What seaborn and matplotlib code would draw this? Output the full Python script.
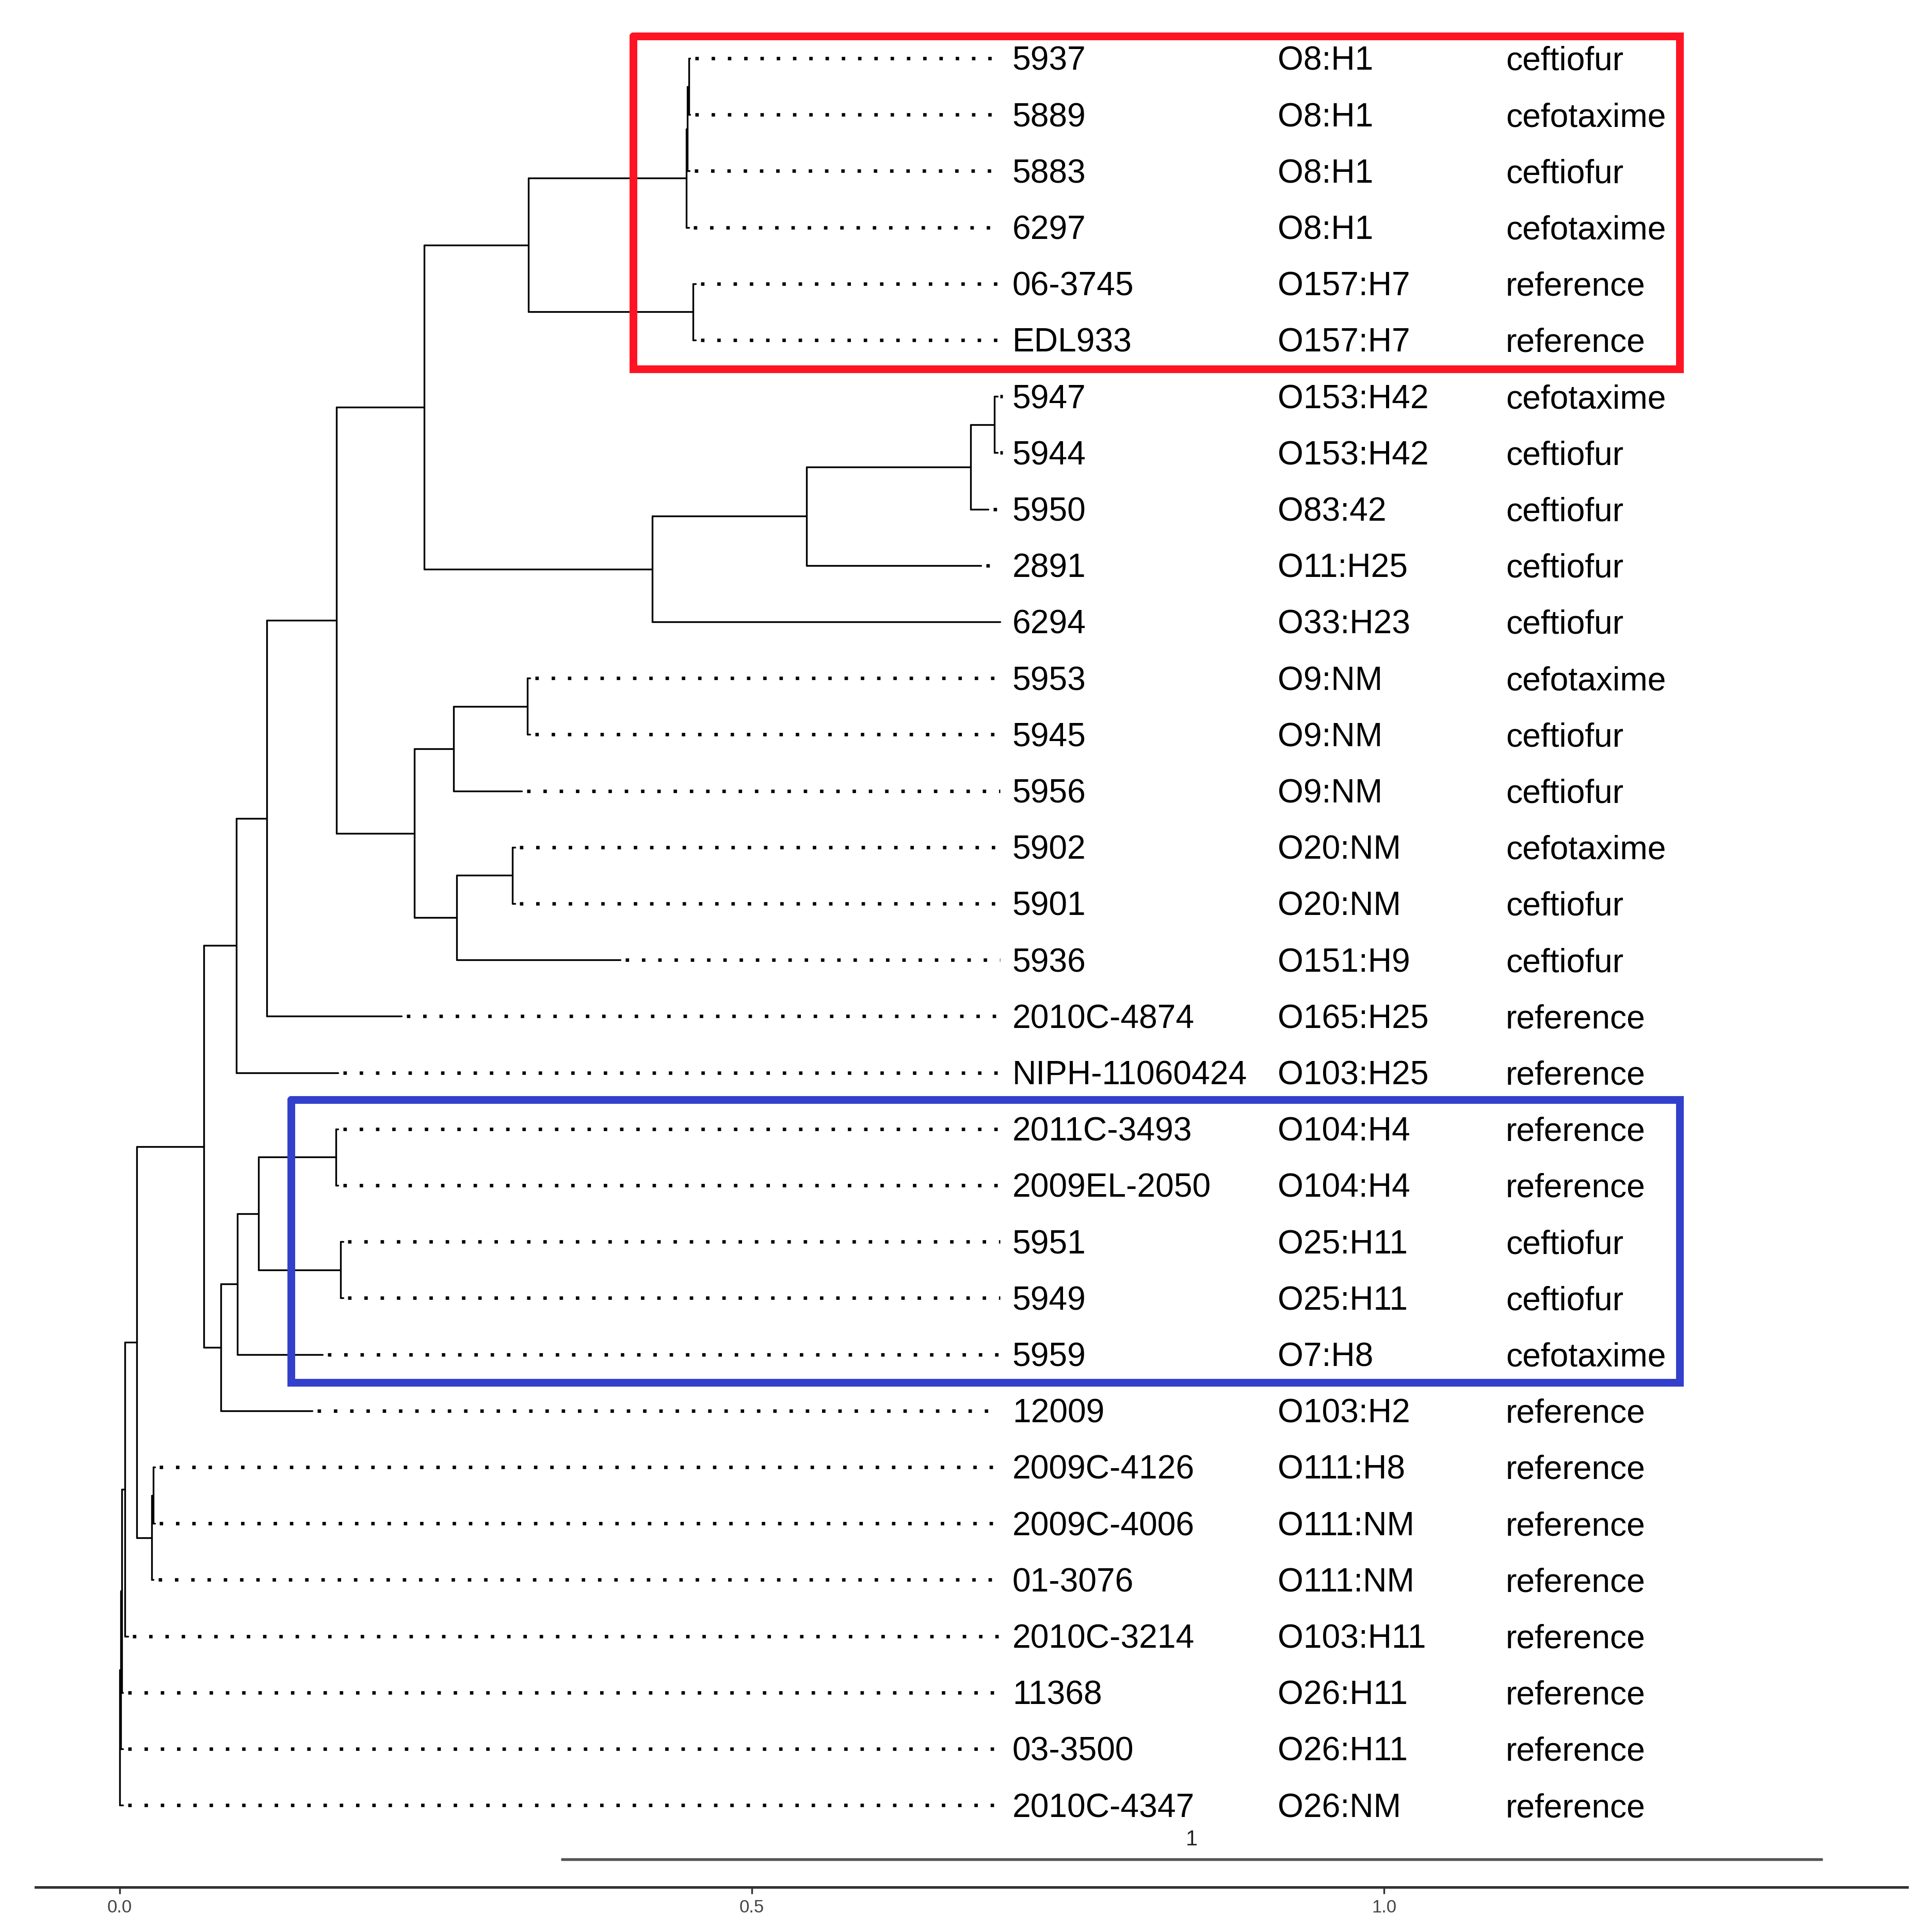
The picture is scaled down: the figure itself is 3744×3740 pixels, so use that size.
import numpy as np
import pandas as pd
import matplotlib
matplotlib.use("Agg")
import matplotlib.pyplot as plt
import seaborn as sns

# tip labels, top to bottom
strains = ["5937", "5889", "5883", "6297", "06-3745", "EDL933",
           "5947", "5944", "5950", "2891", "6294",
           "5953", "5945", "5956", "5902", "5901", "5936",
           "2010C-4874", "NIPH-11060424",
           "2011C-3493", "2009EL-2050", "5951", "5949", "5959", "12009",
           "2009C-4126", "2009C-4006", "01-3076", "2010C-3214",
           "11368", "03-3500", "2010C-4347"]
serotypes = ["O8:H1", "O8:H1", "O8:H1", "O8:H1", "O157:H7", "O157:H7",
             "O153:H42", "O153:H42", "O83:42", "O11:H25", "O33:H23",
             "O9:NM", "O9:NM", "O9:NM", "O20:NM", "O20:NM", "O151:H9",
             "O165:H25", "O103:H25",
             "O104:H4", "O104:H4", "O25:H11", "O25:H11", "O7:H8", "O103:H2",
             "O111:H8", "O111:NM", "O111:NM", "O103:H11",
             "O26:H11", "O26:H11", "O26:NM"]
drugs = ["ceftiofur", "cefotaxime", "ceftiofur", "cefotaxime", "reference", "reference",
         "cefotaxime", "ceftiofur", "ceftiofur", "ceftiofur", "ceftiofur",
         "cefotaxime", "ceftiofur", "ceftiofur", "cefotaxime", "ceftiofur", "ceftiofur",
         "reference", "reference",
         "reference", "reference", "ceftiofur", "ceftiofur", "cefotaxime", "reference",
         "reference", "reference", "reference", "reference",
         "reference", "reference", "reference"]
# distance from root of each tip
tip_depth = [0.4510, 0.4510, 0.4505, 0.4500, 0.4555, 0.4555,
             0.6942, 0.6942, 0.6871, 0.6811, 0.6962,
             0.3246, 0.3246, 0.3181, 0.3125, 0.3125, 0.3961,
             0.2229, 0.1726,
             0.1726, 0.1726, 0.1766, 0.1766, 0.1605, 0.1524,
             0.0276, 0.0276, 0.0266, 0.0064,
             0.0024, 0.0024, 0.0024]

# internal nodes: name, two children, depth
node_names = ["A1", "A2", "A3", "B", "AB", "C1", "C2", "C3", "C4", "ABC",
              "Dp", "D", "Ep", "E", "DE", "K1", "K2", "K3",
              "F", "G", "FG", "L1", "L", "BIG", "H1", "H2", "I", "J", "N1", "N2", "R"]
node_left = ["5937", "A1", "A2", "06-3745", "A3", "5947", "C1", "C2", "C3", "AB",
             "5953", "Dp", "5902", "Ep", "D", "ABC", "K1", "K2",
             "2011C-3493", "5951", "F", "FG", "L1", "K3", "2009C-4126", "H1", "BIG", "I", "J", "N1", "N2"]
node_right = ["5889", "5883", "6297", "EDL933", "B", "5944", "5950", "2891", "6294", "C4",
              "5945", "5956", "5901", "5936", "E", "DE", "2010C-4874", "NIPH-11060424",
              "2009EL-2050", "5949", "G", "5959", "12009", "L", "2009C-4006", "01-3076", "H2",
              "2010C-3214", "11368", "03-3500", "2010C-4347"]
node_depth = [0.4500, 0.4490, 0.4482, 0.4535, 0.3233, 0.6920, 0.6730, 0.5431, 0.4213, 0.2410,
              0.3226, 0.2642, 0.3105, 0.2667, 0.2330, 0.1716, 0.1162, 0.0924,
              0.1710, 0.1749, 0.1097, 0.0930, 0.0799, 0.0665, 0.0264, 0.0254, 0.0135,
              0.0039, 0.0016, 0.0009, 0.0]

# highlighted clades: first tip, last tip, colour
boxes = [("5937", "EDL933", "#FF1424"), ("2011C-3493", "5959", "#3340CC")]

# ---- layout ----
pos_x = {s: d for s, d in zip(strains, tip_depth)}
pos_y = {s: float(i) for i, s in enumerate(strains)}
for n, l, r, d in zip(node_names, node_left, node_right, node_depth):
    pos_x[n] = d
    pos_y[n] = (pos_y[l] + pos_y[r]) / 2

rows = []
seg = 0
for n, l, r in zip(node_names, node_left, node_right):
    x0 = pos_x[n]
    rows += [(seg, x0, pos_y[l]), (seg, x0, pos_y[r])]
    seg += 1
    for c in (l, r):
        rows += [(seg, x0, pos_y[c]), (seg, pos_x[c], pos_y[c])]
        seg += 1
edges = pd.DataFrame(rows, columns=["seg", "x", "y"])

tmax = max(tip_depth)
lead = []
for i, s in enumerate(strains):
    if pos_x[s] < tmax - 1e-4:
        lead += [(i, pos_x[s] + 0.004, pos_y[s]), (i, tmax, pos_y[s])]
leaders = pd.DataFrame(lead, columns=["seg", "x", "y"])

sns.set_theme(style="white")
plt.rcParams['font.family'] = ['Liberation Sans', 'DejaVu Sans']

fig = plt.figure(figsize=(12.48, 12.4667), dpi=300)
ax = fig.add_axes([0.01838, 0.02219, 0.96889, 0.97781])

sns.lineplot(data=edges, x="x", y="y", units="seg", estimator=None, sort=False,
             color="black", lw=0.8, ax=ax)
sns.lineplot(data=leaders, x="x", y="y", units="seg", estimator=None, sort=False,
             color="black", lw=1.6, linestyle=(0, (1, 3.73)), ax=ax)

fs = 15.4
col_x = [0.706, 0.916, 1.0963]
# baseline placed so the capitals sit centred on the row
base_off = 0.21
for i, s in enumerate(strains):
    for cx, txt in zip(col_x, [s, serotypes[i], drugs[i]]):
        ax.text(cx, i + base_off, txt, fontsize=fs, va="baseline", ha="left", color="black")

# boxes around the two clades
box_left = {"#FF1424": 0.4061, "#3340CC": 0.1355}
box_pad = {"#FF1424": (0.39, 0.51), "#3340CC": (0.52, 0.50)}
for first, last, col in boxes:
    y0 = pos_y[first] - box_pad[col][0]
    y1 = pos_y[last] + box_pad[col][1]
    x0 = box_left[col]
    x1 = 1.2339
    ax.plot([x0, x1, x1, x0, x0], [y0, y0, y1, y1, y0], color=col, lw=3.6,
            solid_joinstyle="miter")

# scale bar
ax.plot([0.349, 1.347], [31.96, 31.96], color="#555555", lw=1.3, solid_capstyle="butt")
ax.text(0.848, 31.71, "1", fontsize=10, ha="center", va="baseline", color="#222222")

ax.set_xlim(-0.0666, 1.414)
ax.set_ylim(32.454, -1.035)
ax.set_xlabel("")
ax.set_ylabel("")
ax.set_yticks([])
ax.set_xticks([0.0, 0.5, 1.0])
ax.set_xticklabels(["0.0", "0.5", "1.0"])
for side in ["top", "left", "right"]:
    ax.spines[side].set_visible(False)
ax.spines["bottom"].set_color("#333333")
ax.spines["bottom"].set_linewidth(1.2)
ax.tick_params(axis="x", bottom=True, direction="out", length=3, width=0.8,
               color="#333333", labelsize=8.3, labelcolor="#444444", pad=2.5)
ax.set_facecolor("white")

fig.savefig("out.png", dpi=300, facecolor="white")
